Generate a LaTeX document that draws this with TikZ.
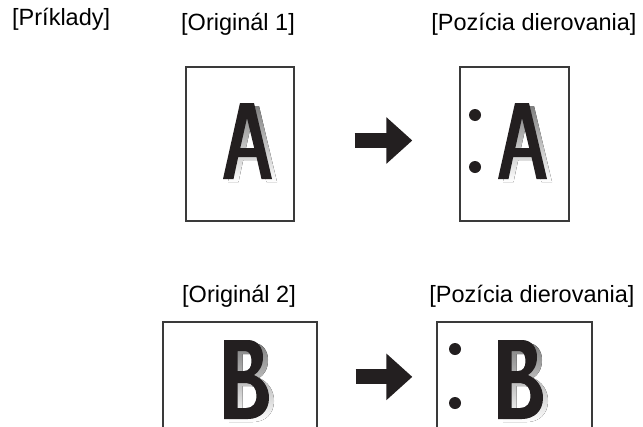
\documentclass[tikz,border=0pt]{standalone}
\usepackage{fontspec}
\setmainfont{Liberation Sans}
\usetikzlibrary{arrows.meta,calc}

\definecolor{ink}{HTML}{231F20}
\definecolor{edge}{HTML}{3A3A3A}
\definecolor{shade}{HTML}{D4D5D7}

\newcommand{\glyphA}[2]{%
  \fill[#2,even odd rule,shift={#1}] (0,0) -- (17,-76) -- (31,-76) -- (49,0) -- (38.5,0) -- (33.5,-22) -- (15.2,-22) -- (10.5,0) -- cycle
    (17.3,-31) -- (24,-61) -- (31.2,-31) -- cycle;}
\newcommand{\glyphB}[2]{%
  \fill[#2,even odd rule,shift={#1}] (0,-79) -- (24,-79) .. controls (34,-79) and (39,-71) .. (39,-62)
    .. controls (39,-53) and (35,-47) .. (30,-44) .. controls (39,-40) and (45,-32) .. (45,-21)
    .. controls (45,-8) and (36,0) .. (24,0) -- (0,0) -- cycle
    (13.5,-68) -- (21,-68) .. controls (26,-68) and (27.5,-63) .. (27.5,-57.5) .. controls (27.5,-52) and (25,-48) .. (20,-48) -- (13.5,-48) -- cycle
    (13.5,-36) -- (22,-36) .. controls (29,-36) and (32.5,-30) .. (32.5,-23.5) .. controls (32.5,-16) and (29,-11) .. (22,-11) -- (13.5,-11) -- cycle;}

\begin{document}
\begin{tikzpicture}[x=1pt,y=-1pt,
  lbl/.style={font=\fontsize{23.5}{27}\selectfont,inner sep=0pt},
  sheet/.style={draw=edge,line width=1.3pt,fill=white,inner sep=0pt},
  ar/.style={-{Triangle[length=26pt,width=45pt]},line width=15pt,ink}]
  \useasboundingbox (0,0) rectangle (643,426);
  \clip (0,0) rectangle (643,426);
  \node[lbl,anchor=base west] (ex) at (12,25) {[Príklady]};
  \node[lbl,anchor=base] (t1) at (238,30) {[Originál 1]};
  \node[lbl,anchor=base] (p1) at (534,30) {[Pozícia dierovania]};
  \node[lbl,anchor=base] (t2) at (239,302) {[Originál 2]};
  \node[lbl,anchor=base] (p2) at (532,302) {[Pozícia dierovania]};
  \node[sheet,minimum width=108pt,minimum height=154pt] (orig1) at (240,144) {};
  \node[sheet,minimum width=109pt,minimum height=154pt] (punch1) at (514.5,144) {};
  \node[sheet,minimum width=154pt,minimum height=200pt] (orig2) at (240,422) {};
  \node[sheet,minimum width=155pt,minimum height=200pt] (punch2) at (514.5,422) {};
  \glyphA{(228,182)}{shade} \glyphA{(223,179)}{ink}
  \glyphA{(503,182)}{shade} \glyphA{(498,179)}{ink}
  \glyphB{(229,422)}{shade} \glyphB{(224,419)}{ink}
  \glyphB{(503,422)}{shade} \glyphB{(498,419)}{ink}
  \fill[ink] (475,115) circle[radius=6pt] (475,167) circle[radius=6pt];
  \fill[ink] (455,349) circle[radius=6pt] (455,403) circle[radius=6pt];
  \draw[ar,shorten <=60pt,shorten >=47pt] ($(orig1.east)+(0,-3.5)$) -- ($(punch1.west)+(0,-3.5)$);
  \draw[ar,shorten <=38pt,shorten >=24pt] ($(orig2.north east)+(0,55.5)$) -- ($(punch2.north west)+(0,55.5)$);
\end{tikzpicture}
\end{document}
